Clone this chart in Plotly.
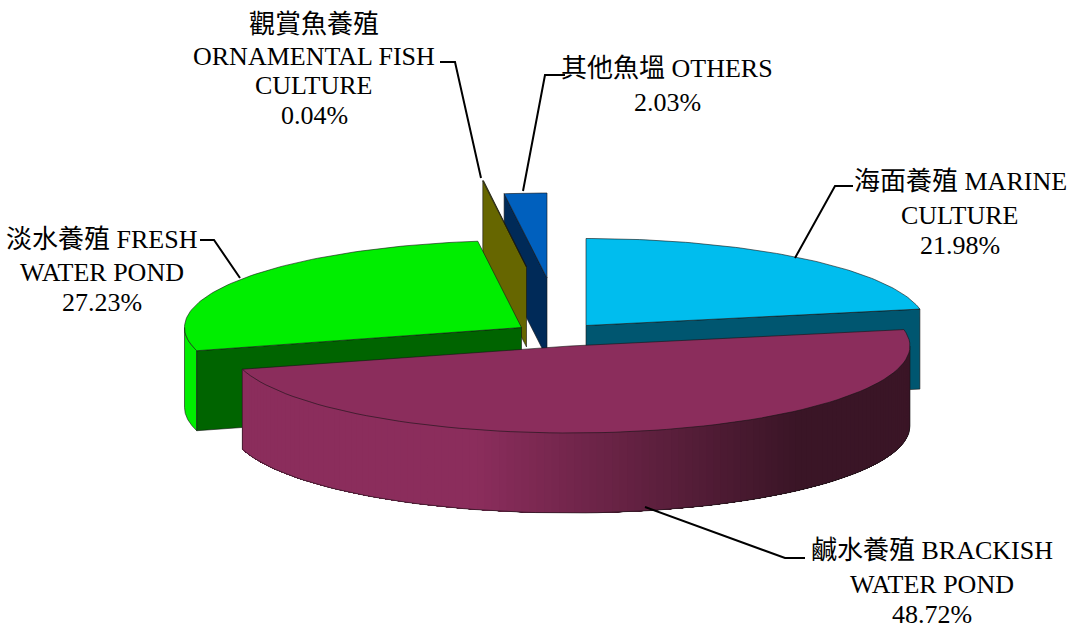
import numpy as np
import plotly.graph_objects as go

# ---- data ----
categories = ["海面養殖 MARINE<br>CULTURE", "鹹水養殖 BRACKISH<br>WATER POND", "淡水養殖 FRESH<br>WATER POND",
              "觀賞魚養殖<br>ORNAMENTAL FISH<br>CULTURE", "其他魚塭 OTHERS"]
shares = [21.98, 48.72, 27.23, 0.04, 2.03]

# ---- styling / projection ----
top_colors = ["#00BDEE", "#8B2D5C", "#00EE00", "#666600", "#0060BE"]
wall_colors = ["#005670", "#8B2D5C", "#006400", "#666600", "#002A58"]
rim_colors = ["#00BDEE", "#8B2D5C", "#00EE00", "#666600", "#0060BE"]
centers = [(586, 325.5), (570, 346), (521.5, 327.5), (526.5, 267), (547, 278)]
RX = [340, 340, 337, 337, 337]
RY = [87, 87, 87, 87, 85]
DEPTH = 80
EDGE = "rgba(20,20,20,0.75)"
label_x = [960, 932, 102, 314, 667]
label_y = [[181, 215, 245], [550, 584, 614], [239, 272, 302], [24, 56, 85, 115], [68, 102]]
leaders = [[(853, 186), (835, 186), (795, 258)],
           [(805, 558), (785, 558), (645, 507)],
           [(200, 240), (214, 240), (240, 278)],
           [(440, 62), (455, 62), (481, 178)],
           [(565, 75), (545, 75), (523, 191)]]

fractions = np.array(shares) / sum(shares)
ends = np.cumsum(fractions) * 360
starts = np.concatenate([[0], ends[:-1]])

fig = go.Figure()


def poly(xs, ys, fill, line=EDGE, w=0.8):
    fig.add_trace(go.Scatter(x=list(xs) + [xs[0]], y=list(ys) + [ys[0]], mode="lines", fill="toself",
                             fillcolor=fill, line=dict(color=line, width=w), hoverinfo="skip", showlegend=False))


def pt(i, deg):
    a = np.radians(deg)
    return centers[i][0] + RX[i] * np.sin(a), centers[i][1] - RY[i] * np.cos(a)


def arc(i, a0, a1, n=80):
    return pt(i, np.linspace(a0, a1, n))


def lerp_color(t, c0=(0x8B, 0x2D, 0x5C), c1=(0x3A, 0x15, 0x26)):
    return "rgb(%d,%d,%d)" % tuple(round(a + (b - a) * t) for a, b in zip(c0, c1))


def flat_wall(i, deg, fill):
    cx, cy = centers[i]
    ex, ey = pt(i, deg)
    poly([cx, ex, ex, cx], [cy, ey, ey + DEPTH, cy + DEPTH], fill)


def top(i, fill):
    x, y = arc(i, starts[i], ends[i])
    poly([centers[i][0], *x], [centers[i][1], *y], fill)


def rim(i, a0, a1, fill):
    x, y = arc(i, a0, a1)
    poly([*x, *x[::-1]], [*y, *(y[::-1] + DEPTH)], fill)


# painter's order: back slices first
flat_wall(0, ends[0], wall_colors[0])
top(0, top_colors[0])
flat_wall(4, starts[4], wall_colors[4])
top(4, top_colors[4])
flat_wall(3, starts[3], wall_colors[3])
top(3, top_colors[3])
rim(2, starts[2], 270, rim_colors[2])
flat_wall(2, starts[2], wall_colors[2])
top(2, top_colors[2])
# Brackish: curved wall with gradient; each strip overlaps all later ones so no seams show
angs = np.linspace(90, ends[1], 130)
for a0 in angs[:-1]:
    t = np.clip((pt(1, a0)[0] - 480) / (800 - 480), 0, 1)
    col = lerp_color(t)
    xa, ya = arc(1, a0, ends[1], 40)
    poly([*xa, *xa[::-1]], [*ya, *(ya[::-1] + DEPTH)], col, line="rgba(0,0,0,0)", w=0)
xo, yo = arc(1, 90, ends[1])
fig.add_trace(go.Scatter(x=[*xo, None, xo[0], xo[0], None, xo[-1], xo[-1]],
                         y=[*(yo + DEPTH), None, yo[0], yo[0] + DEPTH, None, yo[-1], yo[-1] + DEPTH],
                         mode="lines", line=dict(color=EDGE, width=0.8), hoverinfo="skip", showlegend=False))
top(1, top_colors[1])

# leader lines
for seg in leaders:
    fig.add_trace(go.Scatter(x=[p[0] for p in seg], y=[p[1] for p in seg], mode="lines",
                             line=dict(color="black", width=2), hoverinfo="skip", showlegend=False))

# labels, one annotation per text line
for cat, val, lx, ys in zip(categories, shares, label_x, label_y):
    for line_text, ly in zip(cat.split("<br>") + [f"{val:.2f}%"], ys):
        fig.add_annotation(x=lx, y=ly, text=line_text, showarrow=False, align="center",
                           xanchor="center", yanchor="middle",
                           font=dict(family="Liberation Serif, Noto Sans CJK TC", size=26, color="black"))

fig.update_xaxes(range=[0, 1078], visible=False, fixedrange=True)
fig.update_yaxes(range=[629, 0], visible=False, fixedrange=True)
fig.update_layout(width=1078, height=629, margin=dict(l=0, r=0, t=0, b=0),
                  paper_bgcolor="white", plot_bgcolor="white", showlegend=False)
fig.write_html("out.html", config={"displayModeBar": False},
               post_script="document.body.style.margin='0';document.documentElement.style.overflow='hidden';")
